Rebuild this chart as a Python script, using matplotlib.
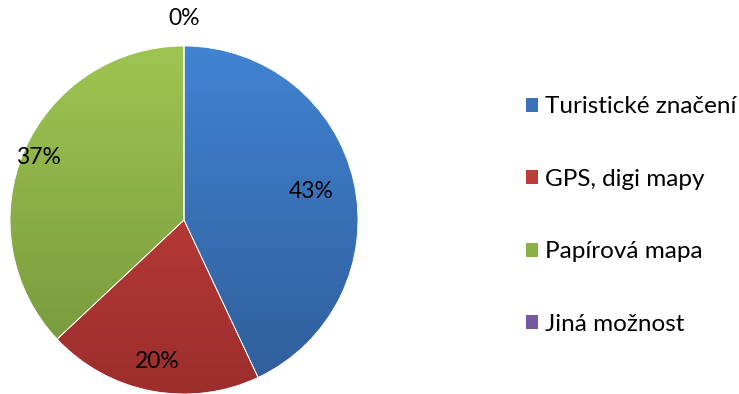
import numpy as np
import matplotlib
matplotlib.use("Agg")
import matplotlib.pyplot as plt
from matplotlib.colors import LinearSegmentedColormap

categories = ["Turistické značení", "GPS, digi mapy", "Papírová mapa", "Jiná možnost"]
values = [43, 20, 37, 0]
top_colors = ["#4183D2", "#CB433F", "#9EC552", "#8667AE"]
bottom_colors = ["#2F5D99", "#9C2E2C", "#74943A", "#5E4880"]
base_colors = ["#3A72BA", "#BE3C39", "#8BB047", "#7458A0"]
label_radius = [0.75, 0.83, 0.91, 1.16]

W, H = 739, 394
fig = plt.figure(figsize=(W / 100, H / 100), dpi=100)
ax = fig.add_axes([0, 0, 1, 1])
plt.rcParams["font.family"] = ["Lato", "DejaVu Sans"]

cx, cy, r = 184, 174, 174

wedges, _ = ax.pie(values, colors=base_colors, startangle=90, counterclock=False,
                   center=(cx, cy), radius=r, frame=True,
                   wedgeprops=dict(linewidth=0.6, edgecolor="white"))

# vertical shading inside each slice
grad = np.linspace(0, 1, 256).reshape(-1, 1)
for w, c0, c1 in zip(wedges, top_colors, bottom_colors):
    cmap = LinearSegmentedColormap.from_list("g", [c1, c0])
    im = ax.imshow(grad, cmap=cmap, extent=(cx - r, cx + r, cy - r, cy + r),
                   origin="lower", aspect="auto", zorder=w.get_zorder() + 0.1)
    im.set_clip_path(w)
    w.set_facecolor("none")
    w.set_zorder(w.get_zorder() + 0.2)

ax.set_xlim(0, W)
ax.set_ylim(0, H)
ax.set_aspect("equal")
ax.axis("off")

total = sum(values)
cum = 0
for v, lr in zip(values, label_radius):
    mid = (cum + v / 2) / total * 360
    cum += v
    ang = np.deg2rad(90 - mid)
    ax.text(cx + lr * r * np.cos(ang), cy + lr * r * np.sin(ang), f"{v}%",
            ha="center", va="center", fontsize=16.5, color="black", zorder=10)

handles = [plt.Rectangle((0, 0), 1, 1, facecolor=c) for c in base_colors]
ax.legend(handles, categories, loc="center left", bbox_to_anchor=(516 / W, 178.5 / H),
          frameon=False, fontsize=17.5, handlelength=0.5, handleheight=0.5,
          handletextpad=0.3, labelspacing=2.12, borderaxespad=0)

fig.savefig("out.png", dpi=100, facecolor="white")
